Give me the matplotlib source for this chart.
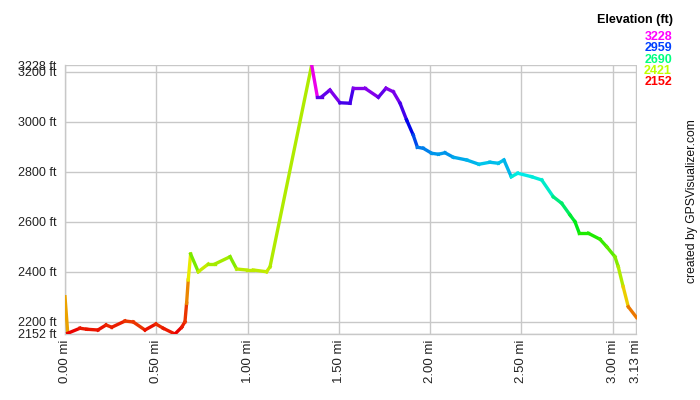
import numpy as np
import matplotlib
matplotlib.use("Agg")
import matplotlib.pyplot as plt
from matplotlib.collections import LineCollection
import colorsys

plt.rcParams['font.family'] = ['Liberation Sans', 'DejaVu Sans']

# distance (mi) and elevation (ft)
dist_mi = [0.000, 0.015, 0.082, 0.119, 0.180, 0.225, 0.256, 0.329, 0.374, 0.438,
           0.498, 0.538, 0.602, 0.639, 0.657, 0.666, 0.675, 0.688, 0.730, 0.785,
           0.821, 0.904, 0.940, 0.995, 1.031, 1.104, 1.123, 1.351, 1.382, 1.406,
           1.451, 1.506, 1.561, 1.579, 1.643, 1.716, 1.758, 1.798, 1.835, 1.871,
           1.907, 1.930, 1.962, 2.008, 2.045, 2.081, 2.127, 2.200, 2.267, 2.327,
           2.373, 2.404, 2.444, 2.480, 2.556, 2.611, 2.674, 2.720, 2.766, 2.793,
           2.817, 2.866, 2.930, 2.967, 3.012, 3.030, 3.057, 3.085, 3.130]
elev_ft = [2301, 2155, 2175, 2171, 2168, 2188, 2179, 2204, 2200, 2168,
           2192, 2175, 2152, 2179, 2201, 2275, 2368, 2472, 2401, 2432,
           2432, 2461, 2412, 2408, 2408, 2401, 2421, 3228, 3101, 3101,
           3128, 3077, 3075, 3135, 3135, 3099, 3135, 3121, 3075, 3008,
           2948, 2899, 2895, 2875, 2871, 2877, 2859, 2848, 2831, 2839,
           2835, 2848, 2781, 2795, 2781, 2768, 2701, 2675, 2628, 2601,
           2555, 2555, 2531, 2501, 2461, 2421, 2341, 2261, 2218]

x_ticks = [0.0, 0.5, 1.0, 1.5, 2.0, 2.5, 3.0, 3.13]
x_labels = ['0.00 mi', '0.50 mi', '1.00 mi', '1.50 mi', '2.00 mi', '2.50 mi', '3.00 mi', '3.13 mi']
y_ticks = [2152, 2200, 2400, 2600, 2800, 3000, 3200, 3228]
legend_vals = [3228, 2959, 2690, 2421, 2152]

e_min, e_max = 2152, 3228


def elev_color(e, v=0.92):
    h = (e - e_min) / (e_max - e_min) * 300.0 / 360.0
    return colorsys.hsv_to_rgb(h, 1.0, v)


fig = plt.figure(figsize=(7, 4), dpi=100)
ax = fig.add_axes([65 / 700, 1 - 334 / 400, (636.5 - 65) / 700, (334 - 65) / 400])

pts = np.column_stack([dist_mi, elev_ft])
segs = np.stack([pts[:-1], pts[1:]], axis=1)
cols = [elev_color(e) for e in elev_ft[:-1]]
lc = LineCollection(segs, colors=cols, linewidths=2.4, capstyle='projecting', zorder=3)
ax.add_collection(lc)

ax.set_xlim(0, 3.13)
ax.set_ylim(e_min, e_max)
ax.set_xticks(x_ticks)
ax.set_xticklabels(x_labels, rotation=90, fontsize=9.5)
ax.set_yticks(y_ticks)
ax.set_yticklabels([f'{t} ft' for t in y_ticks], fontsize=9)
ax.tick_params(length=0, colors='#222222')
ax.tick_params(axis='y', pad=6)
ax.tick_params(axis='x', pad=4)
ax.grid(True, color='#c8c8c8', linewidth=1)
for s in ['top', 'right']:
    ax.spines[s].set_visible(False)
for s in ['left', 'bottom']:
    ax.spines[s].set_color('#c8c8c8')
    ax.spines[s].set_linewidth(1)

# legend
fig.text(673 / 700, 1 - 20 / 400, 'Elevation (ft)', ha='right', va='center',
         fontsize=9, fontweight='bold')
for i, v in enumerate(legend_vals):
    fig.text(672 / 700, 1 - (37 + i * 11.3) / 400, str(v), ha='right', va='center',
             fontsize=9, fontweight='bold', color=elev_color(v, 1.0))

fig.text(692 / 700, 1 - 201 / 400, 'created by GPSVisualizer.com', rotation=90,
         ha='center', va='center', fontsize=8.7, color='#111111')

fig.savefig('out.png', dpi=100)
